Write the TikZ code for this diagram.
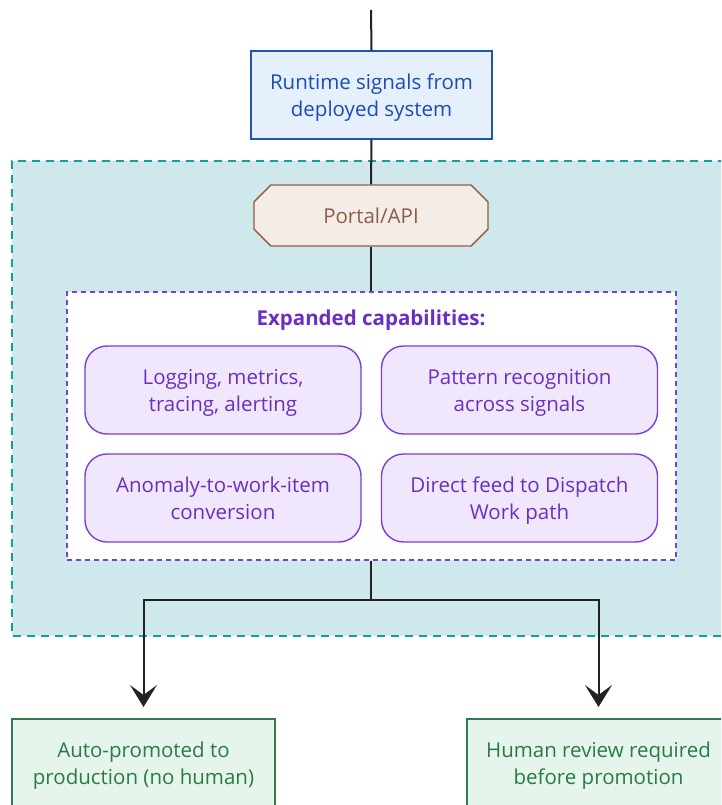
\documentclass[tikz,border=0pt]{standalone}
\usepackage{fontspec}
\setmainfont{Open Sans}
\usetikzlibrary{arrows.meta,shapes.misc}
\definecolor{bluefill}{HTML}{E6F0FC}
\definecolor{blueline}{HTML}{1F55B8}
\definecolor{bluetext}{HTML}{1A4DB0}
\definecolor{tealfill}{HTML}{CFE8EB}
\definecolor{tealline}{HTML}{1A9BA3}
\definecolor{portfill}{HTML}{F4ECE6}
\definecolor{portline}{HTML}{8B5E45}
\definecolor{purpline}{HTML}{7B3FD6}
\definecolor{purpfill}{HTML}{F1E7FC}
\definecolor{purptext}{HTML}{6A2FC2}
\definecolor{greenfill}{HTML}{E6F5EC}
\definecolor{greenline}{HTML}{2E7D4F}
\definecolor{greentext}{HTML}{2A7A48}
\definecolor{wire}{HTML}{222222}
% line strut: fixes every text line to the same height and depth
\newcommand\lnstrut{\rule[-5.5pt]{0pt}{26.6pt}}
\tikzset{
  x=1pt, y=-1pt,
  every node/.style={font=\fontsize{20.5}{27}\selectfont, align=center, inner sep=0pt},
  signalbox/.style={draw=blueline, fill=bluefill, text=bluetext, line width=1.4pt,
    minimum width=241pt, minimum height=88pt},
  portalbox/.style={chamfered rectangle, chamfered rectangle xsep=15pt,
    draw=portline, fill=portfill, text=portline, line width=1.4pt,
    minimum width=234pt, minimum height=61pt},
  capbox/.style={draw=purpline, fill=purpfill, text=purptext, line width=1.4pt,
    rounded corners=22pt, minimum width=276pt, minimum height=88pt},
  outbox/.style={draw=greenline, fill=greenfill, text=greentext, line width=1.4pt,
    minimum width=263pt, minimum height=88pt},
  wireline/.style={draw=wire, line width=2pt},
  arrowline/.style={wireline, -{Stealth[length=22pt, width=27pt, inset=10pt]}},
}
\begin{document}
\begin{tikzpicture}
\useasboundingbox (0,0) rectangle (721,805);
\clip (0,0) rectangle (721,805);

% monitoring zone
\fill[tealfill] (12,161) rectangle (740,636);
\draw[tealline, line width=1.4pt, dash pattern=on 8pt off 6pt] (740,161) -- (12,161) -- (12,636) -- (740,636);

% capabilities panel
\node[draw=purpline, fill=white, line width=1.4pt, dash pattern=on 5pt off 4pt,
  minimum width=609pt, minimum height=268pt] (panel) at (371.5,426) {};
\node[text=purptext, font=\fontsize{20.5}{27}\selectfont\bfseries] (title) at (371,318) {\lnstrut Expanded capabilities:};

\node[capbox] (logs) at (223,390) {\lnstrut Logging, metrics,\\\lnstrut tracing, alerting};
\node[capbox] (pattern) at (519.5,390) {\lnstrut Pattern recognition\\\lnstrut across signals};
\node[capbox] (anomaly) at (223,498) {\lnstrut Anomaly-to-work-item\\\lnstrut conversion};
\node[capbox] (feed) at (519.5,498) {\lnstrut Direct feed to Dispatch\\\lnstrut Work path};

% top flow
\coordinate (src) at (371,10);
\node[signalbox] (signals) at (371.5,95) {\lnstrut Runtime signals from\\\lnstrut deployed system};
\node[portalbox] (portal) at (371,215.5) {\lnstrut Portal/API};

\draw[wireline] (src) -- (signals.north);
\draw[wireline] (signals.south) -- (portal.north);
\draw[wireline] (portal.south) -- (panel.north -| portal.south);

% outcomes
\node[outbox] (auto) at (143.5,763) {\lnstrut Auto-promoted to\\\lnstrut production (no human)};
\node[outbox] (human) at (598.5,763) {\lnstrut Human review required\\\lnstrut before promotion};

\coordinate (split) at (371,600);
\draw[wireline] (panel.south -| split) -- (split);
\draw[arrowline] (split) -| (auto.north |- 0,707);
\draw[arrowline] (split) -| (human.north |- 0,707);
\end{tikzpicture}
\end{document}
